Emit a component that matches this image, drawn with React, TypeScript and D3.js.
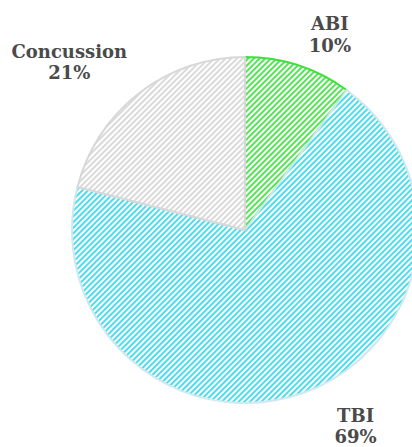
import { useEffect, useRef } from 'react';
import * as d3 from 'd3';

// pie data
const labels = ['ABI', 'TBI', 'Concussion'];
const shares = [10, 69, 21];
const fills = ['#55e455', '#4ddcef', '#dadada'];
const strokes = ['#3ee03e', '#cfe9ee', '#d8d8d8'];

// label nudges (px) relative to the mid-angle anchor
const labelNudge = [
  [16, 12],
  [35, -18],
  [-39, 4],
];

const W = 412;
const H = 447;

export default function App() {
  const svgRef = useRef<SVGSVGElement>(null);

  useEffect(() => {
    if (!svgRef.current) return;
    const svg = d3.select(svgRef.current);
    svg.selectAll('*').remove();

    const cx = 245;
    const cy = 230;
    const radius = 173;

    const defs = svg.append('defs');
    fills.forEach((c, i) => {
      const p = defs.append('pattern')
        .attr('id', `stripe-${i}`)
        .attr('patternUnits', 'userSpaceOnUse')
        .attr('width', 4).attr('height', 4)
        .attr('patternTransform', 'rotate(45)');
      p.append('rect').attr('width', 4).attr('height', 4).attr('fill', '#fff');
      p.append('line')
        .attr('x1', 1).attr('y1', 0).attr('x2', 1).attr('y2', 4)
        .attr('stroke', c).attr('stroke-width', 2);
    });

    const data = labels.map((name, i) => ({ name, value: shares[i], i }));
    const pie = d3.pie<any>().value(d => d.value).sort(null);
    const arc = d3.arc<any>().innerRadius(0).outerRadius(radius);
    const labelArc = d3.arc<any>().innerRadius(radius + 50).outerRadius(radius + 50);

    const g = svg.append('g').attr('transform', `translate(${cx},${cy})`);

    g.selectAll('path').data(pie(data)).join('path')
      .attr('d', arc)
      .attr('fill', d => `url(#stripe-${d.data.i})`)
      .attr('stroke', d => strokes[d.data.i])
      .attr('stroke-width', 2)
      .attr('stroke-linejoin', 'round');

    const lbl = g.selectAll('.lbl').data(pie(data)).join('text')
      .attr('class', 'lbl')
      .attr('transform', d => {
        const [x, y] = labelArc.centroid(d);
        const [nx, ny] = labelNudge[d.data.i];
        return `translate(${x + nx},${y + ny})`;
      })
      .attr('text-anchor', 'middle')
      .style('font-family', '"DejaVu Serif", serif')
      .style('font-weight', 'bold')
      .style('font-size', '18px')
      .style('fill', '#4a4a4a');
    lbl.append('tspan').attr('x', 0).attr('dy', 0).text(d => d.data.name);
    lbl.append('tspan').attr('x', 0).attr('dy', '1.2em').text(d => `${d.data.value}%`);
  }, []);

  return (
    <svg
      ref={svgRef}
      width={W}
      height={H}
      style={{ position: 'absolute', left: 0, top: 0, background: '#fff' }}
    />
  );
}
